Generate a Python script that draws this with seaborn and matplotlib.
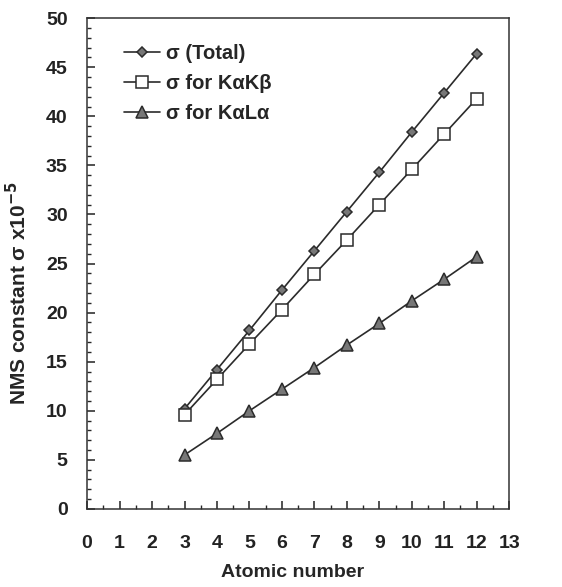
"""NMS constant vs atomic number."""

import matplotlib
matplotlib.use("Agg")
import matplotlib.pyplot as plt
import pandas as pd
import seaborn as sns
from matplotlib.ticker import MultipleLocator

atomic_number = [3, 4, 5, 6, 7, 8, 9, 10, 11, 12]
sigma_total = [10.2, 14.2, 18.2, 22.3, 26.3, 30.3, 34.3, 38.4, 42.4, 46.4]
sigma_kakb = [9.6, 13.2, 16.8, 20.3, 23.9, 27.4, 31.0, 34.6, 38.2, 41.8]
sigma_kala = [5.5, 7.7, 10.0, 12.2, 14.4, 16.7, 18.9, 21.2, 23.4, 25.7]

series_labels = ["σ (Total)", "σ for KαKβ", "σ for KαLα"]

sns.set_style("ticks")
plt.rcParams["font.family"] = ["Liberation Sans", "DejaVu Sans"]
plt.rcParams["font.weight"] = "bold"

df = pd.DataFrame({
    "z": atomic_number * 3,
    "sigma": sigma_total + sigma_kakb + sigma_kala,
    "series": [s for s in series_labels for _ in atomic_number],
})

fig = plt.figure(figsize=(5.62, 5.87), dpi=100)
ax = fig.add_axes([0.155, 0.133, 0.751, 0.836])

line_color = "#2b2b2b"
styles = {
    series_labels[0]: dict(marker="D", markersize=5, markerfacecolor="#777777"),
    series_labels[1]: dict(marker="s", markersize=8, markerfacecolor="white"),
    series_labels[2]: dict(marker="^", markersize=8, markerfacecolor="#777777"),
}
for name in series_labels:
    sub = df[df["series"] == name]
    sns.lineplot(data=sub, x="z", y="sigma", ax=ax, color=line_color,
                 linewidth=1.2, markeredgecolor=line_color, markeredgewidth=1.1,
                 label=name, **styles[name])

ax.set_xlim(0, 13)
ax.set_ylim(0, 50)
ax.xaxis.set_major_locator(MultipleLocator(1))
ax.xaxis.set_minor_locator(MultipleLocator(0.5))
ax.yaxis.set_major_locator(MultipleLocator(5))
ax.yaxis.set_minor_locator(MultipleLocator(1))
ax.tick_params(which="major", direction="in", length=6, width=1.1,
               labelsize=14, pad=14, colors="#222222")
ax.tick_params(axis="x", which="major", pad=19)
ax.tick_params(which="minor", direction="in", length=3, width=1.0)
for sp in ax.spines.values():
    sp.set_linewidth(1.1)
    sp.set_color("#333333")

ax.set_xlabel("Atomic number", fontsize=14, fontweight="bold")
ax.set_ylabel("NMS constant σ x10$^{\\mathbf{-5}}$", fontsize=15,
              fontweight="bold")
ax.xaxis.set_label_coords(0.486, -0.112)
ax.yaxis.set_label_coords(-0.135, 0.44)

ax.legend(loc="upper left", frameon=False, fontsize=14.5, handlelength=1.8,
          handletextpad=0.3, labelspacing=0.55, borderaxespad=0.8,
          bbox_to_anchor=(0.03, 0.997))

fig.savefig("out.png", dpi=100)
